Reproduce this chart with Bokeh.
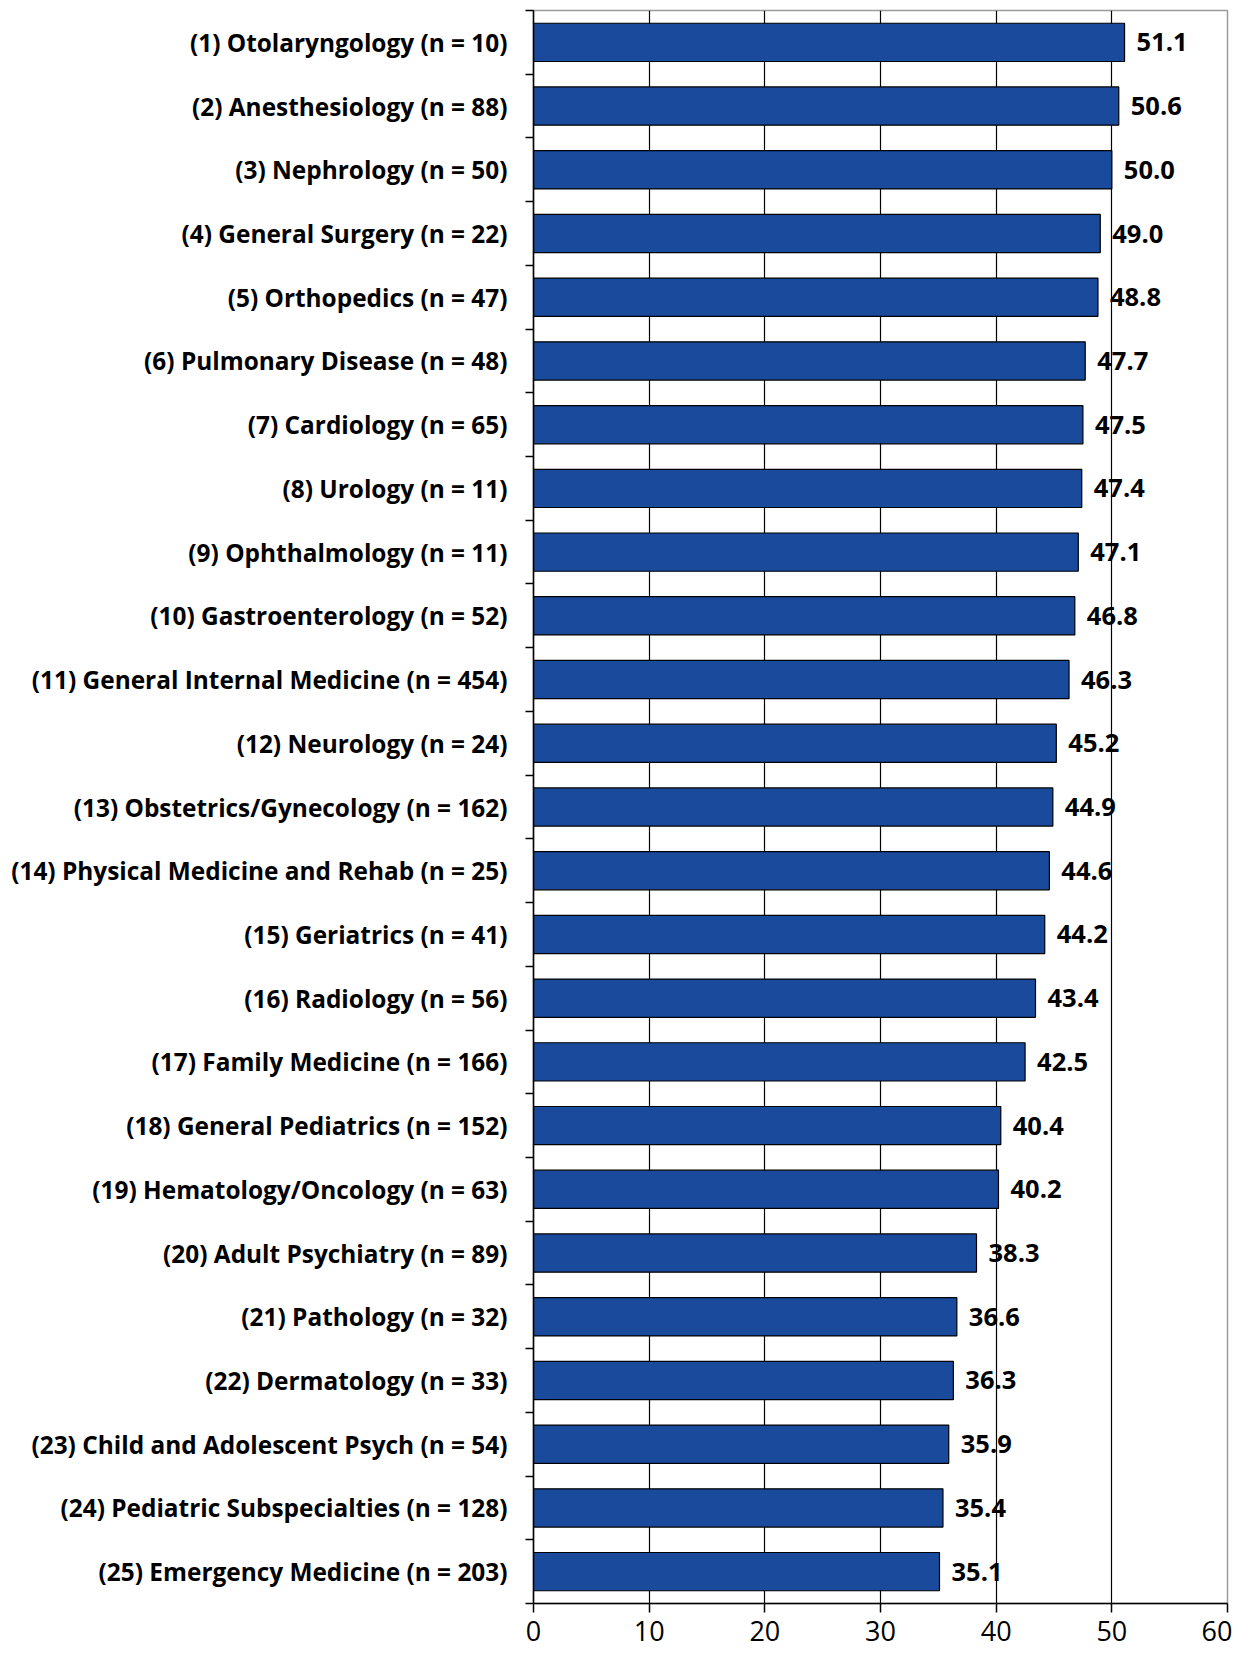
from bokeh.plotting import figure
from bokeh.models import ColumnDataSource, FixedTicker, Range1d
from bokeh.embed import file_html
from bokeh.resources import INLINE
from bokeh.core.properties import value

categories = [
    "(1) Otolaryngology (n = 10)",
    "(2) Anesthesiology (n = 88)",
    "(3) Nephrology (n = 50)",
    "(4) General Surgery (n = 22)",
    "(5) Orthopedics (n = 47)",
    "(6) Pulmonary Disease (n = 48)",
    "(7) Cardiology (n = 65)",
    "(8) Urology (n = 11)",
    "(9) Ophthalmology (n = 11)",
    "(10) Gastroenterology (n = 52)",
    "(11) General Internal Medicine (n = 454)",
    "(12) Neurology (n = 24)",
    "(13) Obstetrics/Gynecology (n = 162)",
    "(14) Physical Medicine and Rehab (n = 25)",
    "(15) Geriatrics (n = 41)",
    "(16) Radiology (n = 56)",
    "(17) Family Medicine (n = 166)",
    "(18) General Pediatrics (n = 152)",
    "(19) Hematology/Oncology (n = 63)",
    "(20) Adult Psychiatry (n = 89)",
    "(21) Pathology (n = 32)",
    "(22) Dermatology (n = 33)",
    "(23) Child and Adolescent Psych (n = 54)",
    "(24) Pediatric Subspecialties (n = 128)",
    "(25) Emergency Medicine (n = 203)",
]
values = [51.1, 50.6, 50.0, 49.0, 48.8, 47.7, 47.5, 47.4, 47.1, 46.8, 46.3, 45.2,
          44.9, 44.6, 44.2, 43.4, 42.5, 40.4, 40.2, 38.3, 36.6, 36.3, 35.9, 35.4, 35.1]
x_ticks = [0, 10, 20, 30, 40, 50, 60]

n = len(categories)
ypos = [n - i for i in range(n)]
src = ColumnDataSource(dict(y=ypos, v=values, lab=[f"{v:.1f}" for v in values]))

FONT = "Open Sans"

p = figure(width=1232, height=1657, x_range=Range1d(0, 60), y_range=Range1d(0.5, n + 0.5),
           output_backend="svg", toolbar_location=None,
           min_border_left=533, min_border_right=5, min_border_top=10, min_border_bottom=54)
p.background_fill_color = "white"
p.border_fill_color = "white"
p.outline_line_color = "#9a9a9a"
p.outline_line_width = 1.5

p.hbar(y="y", right="v", left=0, height=0.6, source=src,
       fill_color="#1A4A9C", line_color="black", line_width=1.2)
p.text(x="v", y="y", text="lab", source=src, x_offset=12,
       text_font=value(FONT), text_font_style="bold", text_font_size="25.5px",
       text_align="left", text_baseline="middle", text_color="black")

# x axis
p.xaxis.ticker = FixedTicker(ticks=x_ticks)
p.xaxis.axis_line_color = "black"
p.xaxis.axis_line_width = 1.5
p.xaxis.major_tick_in = 0
p.xaxis.major_tick_out = 9
p.xaxis.major_tick_line_width = 1.5
p.xaxis.minor_tick_line_color = None
p.xaxis.major_label_text_font = FONT
p.xaxis.major_label_text_font_size = "27px"
p.xaxis.major_label_text_color = "black"
p.xaxis.major_label_standoff = 8

# y axis
p.yaxis.ticker = FixedTicker(ticks=ypos, minor_ticks=[k + 0.5 for k in range(n + 1)])
p.yaxis.major_label_overrides = {y: c for y, c in zip(ypos, categories)}
p.yaxis.axis_line_color = "black"
p.yaxis.axis_line_width = 1.5
p.yaxis.major_tick_in = 0
p.yaxis.major_tick_out = 0
p.yaxis.minor_tick_in = 0
p.yaxis.minor_tick_out = 8
p.yaxis.minor_tick_line_width = 1.5
p.yaxis.minor_tick_line_color = "black"
p.yaxis.major_label_text_font = FONT
p.yaxis.major_label_text_font_style = "bold"
p.yaxis.major_label_text_font_size = "24.4px"
p.yaxis.major_label_text_color = "black"
p.yaxis.major_label_standoff = 18

p.xgrid.ticker = FixedTicker(ticks=[10, 20, 30, 40, 50])
p.xgrid.grid_line_color = "black"
p.xgrid.grid_line_width = 1.2
p.ygrid.grid_line_color = None

open("out.html", "w").write(file_html(p, INLINE))
